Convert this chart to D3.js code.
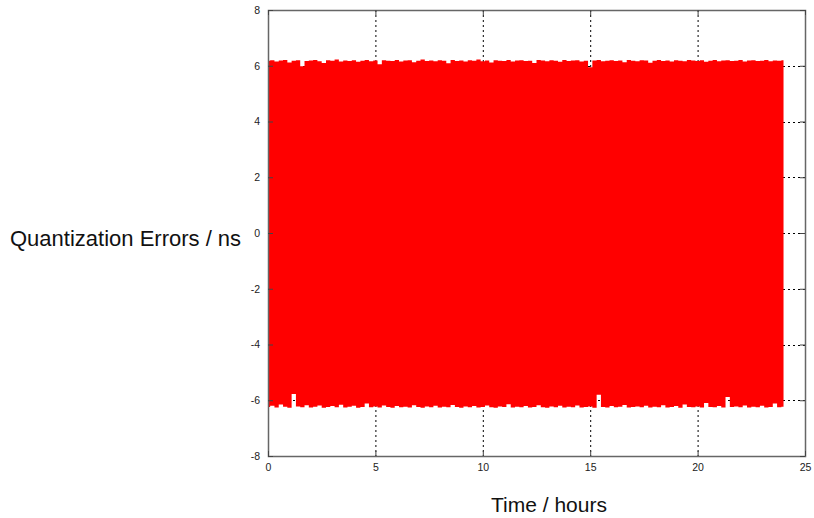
<!DOCTYPE html>
<html>
<head>
<meta charset="utf-8">
<script src="https://cdn.jsdelivr.net/npm/d3@7"></script>
<style>
  html, body { margin: 0; padding: 0; background: #fff; }
  svg { display: block; font-family: "Liberation Sans", Arial, sans-serif; }
</style>
</head>
<body>
<svg id="chart" width="814" height="518"></svg>
<script>
// Envelope of the quantization error signal, sampled every 0.2 h from 0 to 24 h
const sampleStepHours = 0.2;
const upperEnvelope = [
  6.18,6.20,6.15,6.19,6.21,6.12,6.18,6.20,5.98,6.17,
  6.19,6.21,6.16,6.10,6.20,6.18,6.22,6.15,6.19,6.17,
  6.20,6.14,6.18,6.21,6.16,6.19,6.05,6.20,6.18,6.17,
  6.21,6.15,6.19,6.20,6.13,6.18,6.22,6.17,6.19,6.16,
  6.20,6.18,6.09,6.21,6.17,6.19,6.15,6.20,6.18,6.22,
  6.16,6.19,6.12,6.20,6.18,6.17,6.21,6.15,6.19,6.20,
  6.17,6.18,6.10,6.21,6.19,6.16,6.20,6.18,6.14,6.21,
  6.17,6.19,6.20,6.15,6.18,5.95,6.19,6.21,6.16,6.18,
  6.20,6.17,6.19,6.13,6.21,6.18,6.16,6.20,6.19,6.11,
  6.18,6.21,6.17,6.19,6.15,6.20,6.18,6.16,6.21,6.19,
  6.17,6.20,6.14,6.18,6.21,6.16,6.19,6.20,6.17,6.18,
  6.21,6.15,6.19,6.20,6.17,6.18,6.21,6.16,6.19,6.18,
  6.20
];
const lowerEnvelope = [
  -6.24,-6.20,-6.26,-6.15,-6.23,-6.27,-5.78,-6.22,-6.25,-6.18,
  -6.26,-6.23,-6.19,-6.27,-6.24,-6.21,-6.25,-6.16,-6.26,-6.23,
  -6.20,-6.27,-6.24,-6.12,-6.25,-6.22,-6.26,-6.19,-6.24,-6.27,
  -6.21,-6.25,-6.23,-6.26,-6.18,-6.24,-6.27,-6.22,-6.25,-6.20,
  -6.26,-6.23,-6.25,-6.17,-6.24,-6.27,-6.22,-6.25,-6.21,-6.26,
  -6.24,-6.19,-6.25,-6.27,-6.22,-6.24,-6.14,-6.26,-6.23,-6.25,
  -6.21,-6.26,-6.24,-6.18,-6.25,-6.27,-6.22,-6.25,-6.20,-6.26,
  -6.23,-6.25,-6.19,-6.26,-6.24,-6.22,-6.27,-5.80,-6.24,-6.26,
  -6.21,-6.25,-6.23,-6.17,-6.26,-6.24,-6.22,-6.25,-6.20,-6.26,
  -6.23,-6.25,-6.18,-6.26,-6.24,-6.21,-6.27,-6.15,-6.24,-6.25,
  -6.22,-6.26,-6.10,-6.24,-6.25,-6.21,-6.26,-5.88,-6.24,-6.22,
  -6.25,-6.19,-6.26,-6.23,-6.25,-6.20,-6.26,-6.24,-6.12,-6.25,
  -6.23
];
const xTickValues = [0, 5, 10, 15, 20, 25];
const yTickValues = [-8, -6, -4, -2, 0, 2, 4, 6, 8];
const xLabel = "Time / hours";
const yLabel = "Quantization Errors / ns";

const svg = d3.select("#chart");
const plot = { left: 268, top: 10, right: 805, bottom: 456 };

const x = d3.scaleLinear().domain([0, 25]).range([plot.left, plot.right]);
const y = d3.scaleLinear().domain([-8, 8]).range([plot.bottom, plot.top]);

const samples = upperEnvelope.map((hi, i) => ({ t: i * sampleStepHours, hi, lo: lowerEnvelope[i] }));

// dotted grid
const grid = svg.append("g").attr("stroke", "#000").attr("stroke-width", 1)
  .attr("stroke-dasharray", "2,3");
grid.selectAll("line.gx").data(xTickValues.slice(1, -1)).join("line")
  .attr("x1", d => x(d) + 0.5).attr("x2", d => x(d) + 0.5)
  .attr("y1", plot.top).attr("y2", plot.bottom);
grid.selectAll("line.gy").data(yTickValues.slice(1, -1)).join("line")
  .attr("y1", d => Math.round(y(d)) + 0.5).attr("y2", d => Math.round(y(d)) + 0.5)
  .attr("x1", plot.left).attr("x2", plot.right);

// signal band
const area = d3.area()
  .x(d => x(d.t))
  .y0(d => y(d.lo))
  .y1(d => y(d.hi))
  .curve(d3.curveStep);
svg.append("path").datum(samples)
  .attr("d", area)
  .attr("fill", "#ff0000");

// frame
svg.append("rect")
  .attr("x", plot.left + 0.5).attr("y", plot.top + 0.5)
  .attr("width", plot.right - plot.left).attr("height", plot.bottom - plot.top)
  .attr("fill", "none").attr("stroke", "#666").attr("stroke-width", 1.5);

// axes with inward ticks; plain hyphen for negatives
const tickFmt = d => String(d);
const axisFont = g => g.selectAll("text").attr("font-size", 10.5).attr("fill", "#222")
  .attr("font-family", "'Liberation Sans', Arial, sans-serif");

const xAxis = svg.append("g").attr("transform", `translate(0,${plot.bottom})`)
  .call(d3.axisBottom(x).tickValues(xTickValues).tickSize(-5).tickPadding(8).tickFormat(tickFmt));
xAxis.select(".domain").remove();
xAxis.selectAll("line").attr("stroke", "#444");
axisFont(xAxis);

const xAxisTop = svg.append("g").attr("transform", `translate(0,${plot.top})`)
  .call(d3.axisTop(x).tickValues(xTickValues).tickSize(-5).tickFormat(""));
xAxisTop.select(".domain").remove();
xAxisTop.selectAll("line").attr("stroke", "#444");

const yAxis = svg.append("g").attr("transform", `translate(${plot.left},0)`)
  .call(d3.axisLeft(y).tickValues(yTickValues).tickSize(-5).tickPadding(8).tickFormat(tickFmt));
yAxis.select(".domain").remove();
yAxis.selectAll("line").attr("stroke", "#444");
axisFont(yAxis);

const yAxisRight = svg.append("g").attr("transform", `translate(${plot.right},0)`)
  .call(d3.axisRight(y).tickValues(yTickValues).tickSize(-5).tickFormat(""));
yAxisRight.select(".domain").remove();
yAxisRight.selectAll("line").attr("stroke", "#444");

// axis titles
svg.append("text")
  .attr("x", 549).attr("y", 512)
  .attr("text-anchor", "middle")
  .attr("font-size", 21).attr("fill", "#111")
  .text(xLabel);
svg.append("text")
  .attr("x", 10).attr("y", 246)
  .attr("text-anchor", "start")
  .attr("font-size", 22).attr("fill", "#111")
  .text(yLabel);
</script>
</body>
</html>
